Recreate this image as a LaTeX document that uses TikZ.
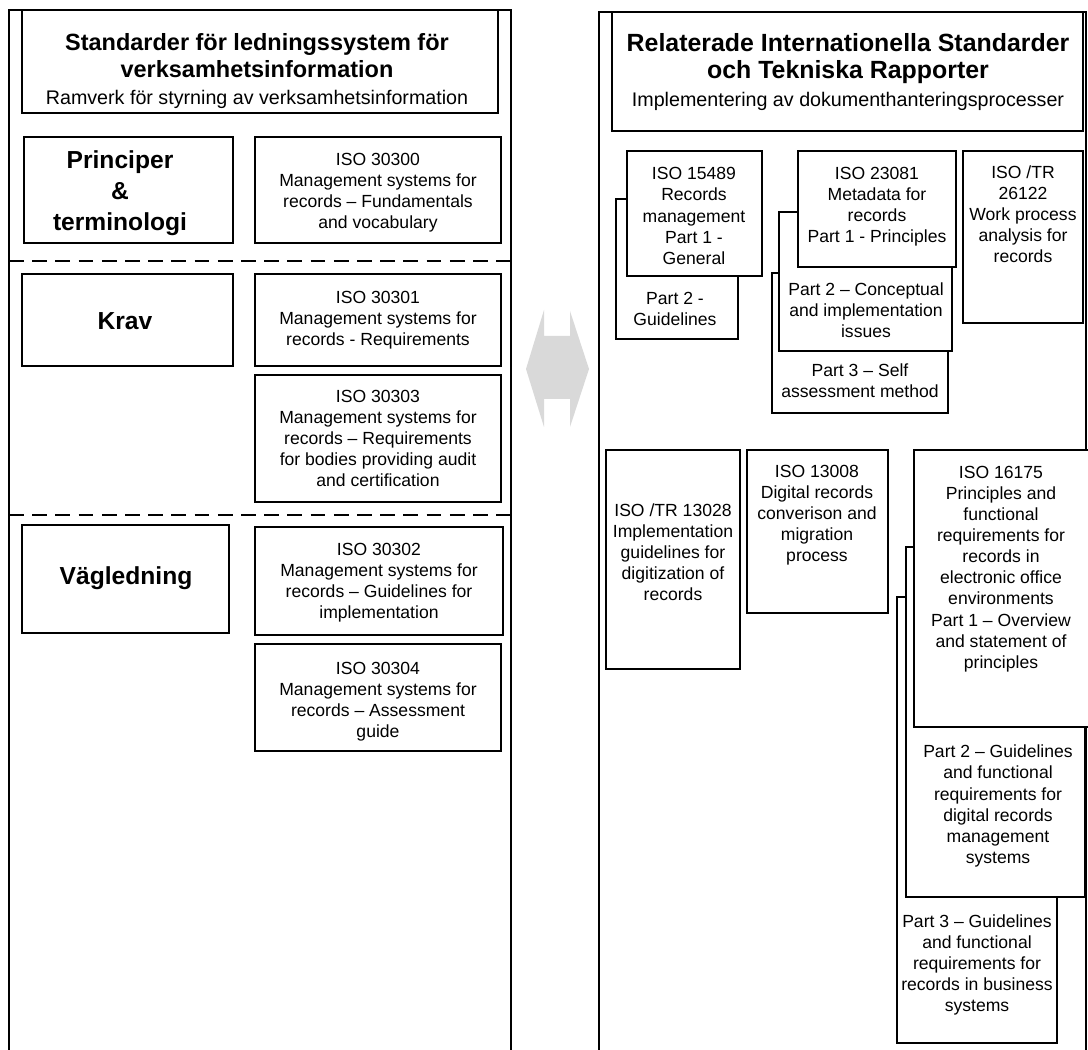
\documentclass[tikz,border=0pt]{standalone}
\usepackage{fontspec}
\setmainfont{Liberation Sans}
\usetikzlibrary{fit}
\definecolor{arrowgray}{HTML}{D9D9D9}
\tikzstyle{iso box}=[
        draw,
        fill = white,
        line width = 0.9pt,
        inner sep = 0pt
    ]
\tikzstyle{iso text}=[
    align = center,
    inner sep = 0pt,
    font = \fontsize{12.5}{15}\selectfont
]
\tikzstyle{area text}=[
    align = center,
    inner sep = 0pt,
    font = \bfseries\fontsize{17.5}{22}\selectfont
]
\tikzstyle{panel}=[line width = 1.1pt]
\tikzstyle{divider}=[line width = 0.9pt, dash pattern = on 10.5pt off 6pt]

\begin{document}
\begin{tikzpicture}[x=0.025cm, y=-0.025cm]
        \useasboundingbox (0,0) rectangle (1088,1050);

        % vänster panel
        \draw[panel] (9,1050) -- (9,10) -- (511,10) -- (511,1050);
        \node[iso box, fit={(22,10) (498,113)}] (ltitle) {};
        \node[align=center, inner sep=0pt, font=\fontsize{14}{19.2}\selectfont] (ltitle text) at (257,71)
            {{\bfseries\fontsize{16.7}{19.2}\selectfont Standarder för ledningssystem för}\\
             {\bfseries\fontsize{16.7}{19.2}\selectfont verksamhetsinformation}\\
             Ramverk för styrning av verksamhetsinformation};

        \node[iso box, fit={(24,137) (233,243)}] (principer) {};
        \node[area text] (principer text) at (120,193) {Principer\\\&\\terminologi};
        \node[iso box, fit={(255,137) (501,243)}] (iso30300) {};
        \node[iso text] (iso30300 text) at (378,193)
            {ISO 30300\\Management systems for\\records -- Fundamentals\\and vocabulary};

        \draw[divider] (9,261) -- (511,261);

        \node[iso box, fit={(22,274) (233,366)}] (krav) {};
        \node[area text] (krav text) at (125,321) {Krav};
        \node[iso box, fit={(255,274) (501,366)}] (iso30301) {};
        \node[iso text] (iso30301 text) at (378,320.5)
            {ISO 30301\\Management systems for\\records - Requirements};
        \node[iso box, fit={(255,375) (501,502)}] (iso30303) {};
        \node[iso text] (iso30303 text) at (378,438.5)
            {ISO 30303\\Management systems for\\records -- Requirements\\for bodies providing audit\\and certification};

        \draw[divider] (9,515) -- (511,515);

        \node[iso box, fit={(22,525) (229,633)}] (vagledning) {};
        \node[area text] (vagledning text) at (126,578) {Vägledning};
        \node[iso box, fit={(255,527) (503,635)}] (iso30302) {};
        \node[iso text] (iso30302 text) at (379,582.5)
            {ISO 30302\\Management systems for\\records -- Guidelines for\\implementation};
        \node[iso box, fit={(255,644) (501,751)}] (iso30304) {};
        \node[iso text] (iso30304 text) at (378,701.5)
            {ISO 30304\\Management systems for\\records -- Assessment\\guide};

        % pil mellan panelerna
        \fill[arrowgray] (526,369) -- (544,310) -- (544,336) -- (570,336) -- (570,311)
            -- (589,369) -- (570,427) -- (570,399) -- (544,399) -- (544,427) -- cycle;

        % höger panel
        \draw[panel] (599,1050) -- (599,12) -- (1086,12) -- (1086,1050);
        \node[iso box, fit={(612,12) (1083,131)}] (rtitle) {};
        \node[align=center, inner sep=0pt, font=\fontsize{14}{19.6}\selectfont] (rtitle text) at (848,72)
            {{\bfseries\fontsize{17.7}{19.6}\selectfont Relaterade Internationella Standarder}\\
             {\bfseries\fontsize{17.7}{19.6}\selectfont och Tekniska Rapporter}\\
             Implementering av dokumenthanteringsprocesser};

        \node[iso box, fit={(616,199) (738,339)}] (iso15489b) {};
        \node[iso text] (iso15489b text) at (675,309) {Part 2 -\\Guidelines};
        \node[iso box, fit={(627,151) (762,276)}] (iso15489) {};
        \node[iso text] (iso15489 text) at (694,216) {ISO 15489\\Records\\management\\Part 1 -\\General};

        \node[iso box, fit={(772,273) (948,413)}] (iso23081c) {};
        \node[iso text] (iso23081c text) at (860,381) {Part 3 -- Self\\assessment method};
        \node[iso box, fit={(779,212) (952,351)}] (iso23081b) {};
        \node[iso text] (iso23081b text) at (866,310) {Part 2 -- Conceptual\\and implementation\\issues};
        \node[iso box, fit={(798,151) (956,267)}] (iso23081) {};
        \node[iso text] (iso23081 text) at (877,206.5) {ISO 23081\\Metadata for\\records\\Part 1 - Principles};

        \node[iso box, fit={(963,151) (1083,323)}] (iso26122) {};
        \node[iso text] (iso26122 text) at (1023,214) {ISO /TR\\26122\\Work process\\analysis for\\records};

        \node[iso box, fit={(606,450) (740,669)}] (iso13028) {};
        \node[iso text] (iso13028 text) at (673,552) {ISO /TR 13028\\Implementation\\guidelines for\\digitization of\\records};
        \node[iso box, fit={(747,450) (888,613)}] (iso13008) {};
        \node[iso text] (iso13008 text) at (817,515) {ISO 13008\\Digital records\\converison and\\migration\\process};

        \node[iso box, fit={(897,597) (1057,1043)}] (iso16175c) {};
        \node[iso text] (iso16175c text) at (977,965) {Part 3 -- Guidelines\\and functional\\requirements for\\records in business\\systems};
        \node[iso box, fit={(906,547) (1085,897)}] (iso16175b) {};
        \node[iso text] (iso16175b text) at (998,806) {Part 2 -- Guidelines\\and functional\\requirements for\\digital records\\management\\systems};
        \node[iso box, fit={(914,450) (1092,727)}] (iso16175) {};
        \node[iso text] (iso16175 text) at (1001,569) {ISO 16175\\Principles and\\functional\\requirements for\\records in\\electronic office\\environments\\Part 1 -- Overview\\and statement of\\principles};

    \end{tikzpicture}
\end{document}
